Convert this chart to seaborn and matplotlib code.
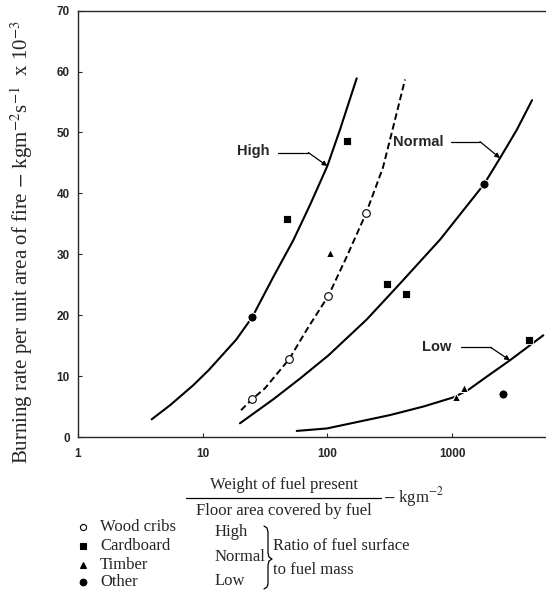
import numpy as np
import matplotlib
matplotlib.use('Agg')
import matplotlib.pyplot as plt
from matplotlib.lines import Line2D
from matplotlib.ticker import NullLocator
import seaborn as sns

### DATA ###
# fire load (kg/m2) vs burning rate (kg m-2 s-1 x 1e-3)
high_x = [3.9, 5.5, 8.4, 11.2, 18.6, 25, 36.9, 53.3, 72.6, 100, 126, 172]
high_y = [2.9, 5.25, 8.5, 11.0, 16.0, 19.7, 26.3, 32.3, 38.1, 44.5, 50.4, 58.9]

cribs_x = [20.3, 24.9, 31.6, 49.5, 68.3, 102, 143, 204, 279, 328, 358, 420]  # dashed curve
cribs_y = [4.4, 6.2, 8.0, 12.8, 17.6, 23.2, 29.6, 36.7, 44.2, 49.9, 53.0, 58.7]

normal_x = [19.9, 36.9, 60.4, 102, 207, 360, 801, 1806, 2427, 3300, 4385]
normal_y = [2.25, 6.2, 9.6, 13.4, 19.3, 24.6, 32.4, 41.5, 45.8, 50.4, 55.3]

low_x = [56.8, 98.9, 318, 589, 1024, 1343, 1897, 2918, 5400]
low_y = [1.0, 1.4, 3.6, 5.0, 6.5, 7.7, 9.9, 12.6, 16.7]

# measured points by fuel type
wood_x = [24.9, 49.5, 102, 204]
wood_y = [6.2, 12.8, 23.2, 36.7]
card_x = [47.2, 144.6, 299, 425, 4125]
card_y = [35.8, 48.6, 25.1, 23.5, 15.9]
timber_x = [105, 1077, 1248]
timber_y = [30.2, 6.6, 8.0]
other_x = [25.0, 1806, 2578]
other_y = [19.7, 41.5, 7.0]

# curve labels: text position, start of leader, knee, arrow tip
labels = ['High', 'Normal', 'Low']
label_xy = [(25.5, 47.0), (537, 48.5), (754, 14.7)]
lead_start = [(40.4, 46.7), (977, 48.5), (1181, 14.7)]
lead_knee = [(70.4, 46.7), (1676, 48.5), (2044, 14.7)]
lead_tip = [(100, 44.5), (2427, 45.8), (2918, 12.6)]

xticks = [1, 10, 100, 1000]
yticks = [0, 10, 20, 30, 40, 50, 60, 70]

### STYLE ###
sns.set_style('ticks')
plt.rcParams['font.family'] = ['Liberation Sans', 'DejaVu Sans']
plt.rcParams['mathtext.fontset'] = 'stix'

W, H = 546, 591
fig = plt.figure(figsize=(W / 100, H / 100), dpi=100)

def fx(px):
    return px / W

def fy(py):
    return 1 - py / H

# axes from x=78px to the right edge, y from 10.7px to 437px
ax = fig.add_axes([fx(78), fy(437), fx(W) - fx(78), fy(10.7) - fy(437)])

### CURVES ###
line_kw = dict(ax=ax, color='k', lw=1.5, sort=False, estimator=None,
               solid_joinstyle='round', solid_capstyle='round')
sns.lineplot(x=high_x, y=high_y, **line_kw)
sns.lineplot(x=normal_x, y=normal_y, **line_kw)
sns.lineplot(x=low_x, y=low_y, **line_kw)
sns.lineplot(x=cribs_x, y=cribs_y, ax=ax, color='k', lw=1.4, sort=False, estimator=None,
             linestyle=(0, (3.4, 1.8)))

### POINTS ###
sns.scatterplot(x=wood_x, y=wood_y, ax=ax, marker='o', s=30, color='white', edgecolor='black', linewidth=0.8, zorder=5)
sns.scatterplot(x=card_x, y=card_y, ax=ax, marker='s', s=30, color='black', edgecolor='white', linewidth=0.6, zorder=5)
sns.scatterplot(x=timber_x, y=timber_y, ax=ax, marker='^', s=34, color='black', edgecolor='white', linewidth=0.8, zorder=5)
sns.scatterplot(x=other_x, y=other_y, ax=ax, marker='o', s=44, color='black', edgecolor='white', linewidth=0.8, zorder=5)

### CURVE LABELS WITH LEADERS ###
for lab, t, s0, k, tip in zip(labels, label_xy, lead_start, lead_knee, lead_tip):
    ax.text(t[0], t[1], lab, ha='center', va='center', fontsize=10.5, fontweight='bold')
    ax.plot([s0[0], k[0]], [s0[1], k[1]], color='k', lw=0.9)
    ax.annotate('', xy=tip, xytext=k,
                arrowprops=dict(arrowstyle='-|>', color='k', lw=0.9, mutation_scale=7,
                                shrinkA=0, shrinkB=0))

### AXES ###
ax.set_xscale('log')
ax.set_xlim(1, 10 ** ((W - 78) / 124.67))
ax.set_ylim(0, 70)
ax.set_xticks(xticks)
ax.set_xticklabels([str(v) for v in xticks])
ax.xaxis.set_minor_locator(NullLocator())
ax.set_yticks(yticks)
ax.tick_params(direction='in', length=3, width=0.8, labelsize=8.5, pad=6)
ax.tick_params(axis='x', pad=8)
for lab in ax.get_xticklabels() + ax.get_yticklabels():
    lab.set_fontweight('bold')
for sp in ['left', 'bottom', 'top']:
    ax.spines[sp].set_linewidth(1.0)
ax.spines['right'].set_visible(False)
ax.set_xlabel('')
ax.set_ylabel('')

serif = ['Liberation Serif', 'DejaVu Serif']

# y label
fig.text(fx(22), fy(242), r'Burning rate per unit area of fire $-$ kgm$^{-2}$s$^{-1}$  x 10$^{-3}$',
         rotation=90, ha='center', va='center', fontsize=15, family=serif)

# x label as a fraction
fig.text(fx(284.5), fy(485), 'Weight of fuel present', ha='center', va='center', fontsize=12, family=serif)
fig.add_artist(Line2D([fx(186), fx(381)], [fy(497.5), fy(497.5)], color='k', lw=0.9))
fig.text(fx(284), fy(511), 'Floor area covered by fuel', ha='center', va='center', fontsize=12, family=serif)
fig.text(fx(383), fy(497), r'$-$ kgm$^{-2}$', ha='left', va='center', fontsize=12, family=serif)

# marker key
key_names = ['Wood cribs', 'Cardboard', 'Timber', 'Other']
key_marks = [('o', 'white', 4.4), ('s', 'black', 3.8), ('^', 'black', 4.2), ('o', 'black', 4.8)]
key_rows = [527, 546, 565, 582]
for name, (m, fc, ms), ry in zip(key_names, key_marks, key_rows):
    fig.add_artist(Line2D([fx(82.5)], [fy(ry)], marker=m, markersize=ms, markerfacecolor=fc,
                          markeredgecolor='k', markeredgewidth=0.8, linestyle='none'))
    fig.text(fx(100), fy(ry), name, ha='left', va='center', fontsize=12, family=serif)

# ratio key with brace
for name, ry in zip(labels, [532, 557, 581]):
    fig.text(fx(215), fy(ry), name, ha='left', va='center', fontsize=12, family=serif)
brace_px = [(264, 526), (267, 528), (268, 532), (268, 553), (269, 557), (272, 559),
            (269, 561), (268, 565), (268, 584), (267, 587), (264, 589)]
fig.add_artist(Line2D([fx(p[0]) for p in brace_px], [fy(p[1]) for p in brace_px], color='k', lw=0.9))
fig.text(fx(273), fy(546), 'Ratio of fuel surface', ha='left', va='center', fontsize=12, family=serif)
fig.text(fx(273), fy(570), 'to fuel mass', ha='left', va='center', fontsize=12, family=serif)

plt.savefig('out.png', dpi=100)
